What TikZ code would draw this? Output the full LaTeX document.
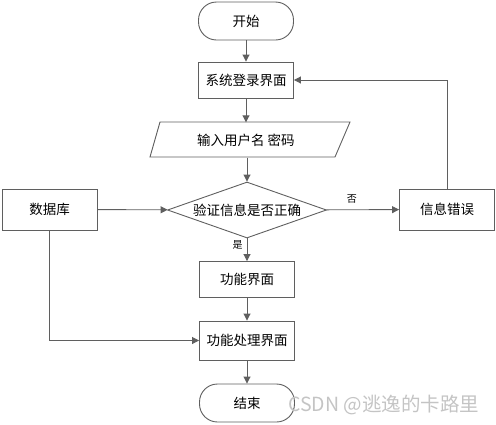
\documentclass[tikz,border=0pt]{standalone}
\usepackage{fontspec}
\setmainfont{Noto Sans CJK SC}
\usetikzlibrary{shapes.geometric,arrows.meta}
\definecolor{ln}{HTML}{5F5F5F}
\definecolor{wm}{HTML}{C4C4C4}
\begin{document}
\begin{tikzpicture}[x=1pt,y=-1pt,
  every node/.style={font=\fontsize{13.5}{15}\selectfont, inner sep=0pt},
  box/.style={draw=ln, line width=0.9pt, fill=white, minimum width=95pt, minimum height=36pt},
  term/.style={box, rounded corners=18pt, minimum height=38pt},
  dec/.style={draw=ln, line width=0.9pt, diamond, minimum width=159pt, minimum height=56pt, aspect=2.8},
  arr/.style={draw=ln, line width=0.9pt, -{Triangle[length=7pt,width=7pt]}},
  lbl/.style={font=\fontsize{10}{11}\selectfont}
]
\useasboundingbox (0,0) rectangle (496,424);
\node[term] (start) at (246,21) {开始};
\node[box] (login) at (246,80) {系统登录界面};
\draw[ln, line width=0.9pt] (160,122) -- (350,122) -- (335,157) -- (150,157) -- cycle;
\node[minimum width=185pt, minimum height=35pt] (in) at (250,140) {\hspace*{-8pt}输入用户名 密码};
\node[dec] (check) at (247,210) {验证信息是否正确};
\node[box, minimum height=41pt] (db) at (49.5,209.5) {数据库};
\node[box, minimum height=41pt] (err) at (447,209.5) {信息错误};
\node[box] (func) at (247,279.5) {功能界面};
\node[box, minimum height=39pt] (proc) at (247,340.5) {功能处理界面};
\node[term] (end) at (247,403) {结束};
\node[font=\fontsize{19.5}{21}\selectfont, text=wm, anchor=west] (wmk) at (288,405) {CSDN @逃逸的卡路里};
\draw[arr] (start) -- (login);
\draw[arr] (login.south) -- (login.south |- in.north);
\draw[arr] (check.north |- in.south) -- (check.north);
\draw[arr] (db) -- (check);
\draw[arr] (check) -- node[lbl, pos=0.35, above=6pt] {否} (err);
\draw[arr] (check) -- node[lbl, pos=0.3, left=4pt] {是} (func);
\draw[arr] (err) |- (login);
\draw[arr] (db) |- (proc);
\draw[arr] (func) -- (proc);
\draw[arr] (proc) -- (end);
\end{tikzpicture}
\end{document}
